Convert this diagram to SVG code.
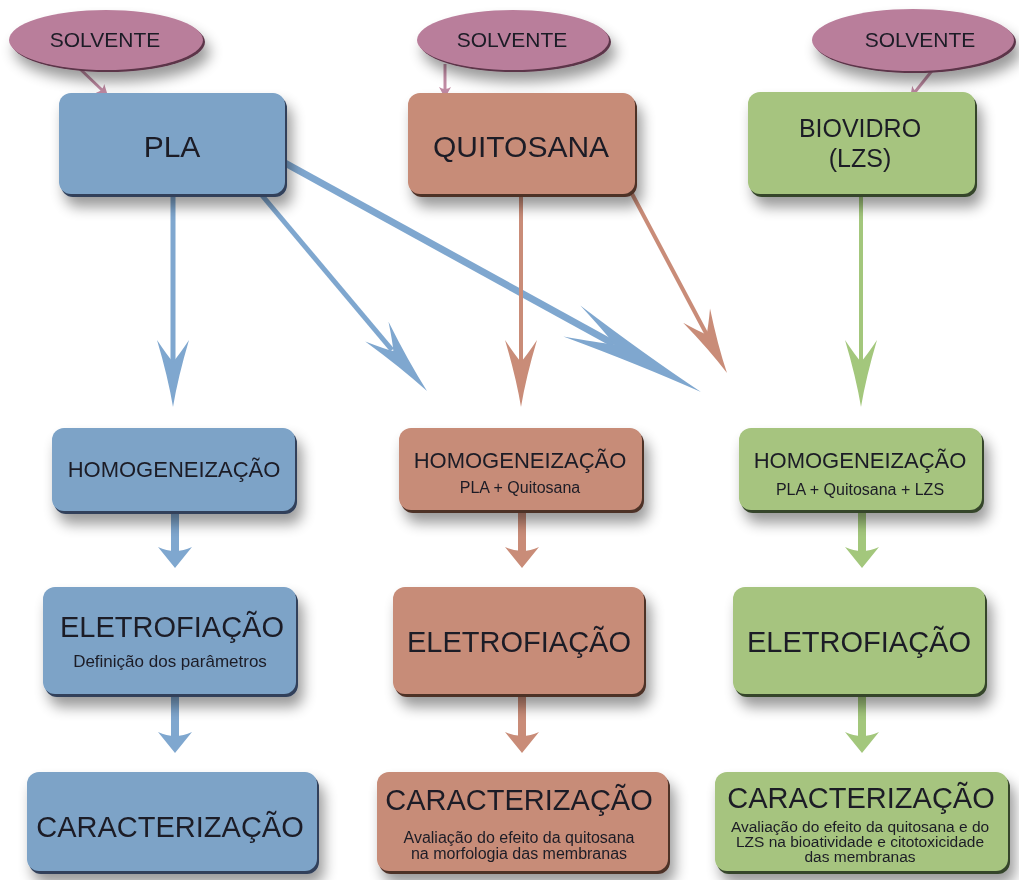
<svg xmlns="http://www.w3.org/2000/svg" xmlns:xlink="http://www.w3.org/1999/xlink" width="1019" height="880" viewBox="0 0 1019 880">
<style>
  .t { font-family: "Liberation Sans", Arial, sans-serif; fill: #1c1c26; text-anchor: middle; }
  .h1 { font-size: 30px; }
  .h2 { font-size: 22px; }
  .h3 { font-size: 29px; }
  .sv { font-size: 21px; }
  .sub { font-size: 16px; }
  .sub2 { font-size: 16px; }
  .blue { fill: #7DA3C7; }
  .pink { fill: #C78C78; }
  .green { fill: #A6C47F; }
  .mauve { fill: #B97E9B; }
  .dblue { fill: #30405a; }
  .dpink { fill: #4d3028; }
  .dgreen { fill: #35452b; }
  .dmauve { fill: #5b3448; }
  .sb { stroke: #7FA7CF; fill: none; }
  .sp { stroke: #C98C78; fill: none; }
  .sg { stroke: #A3C77C; fill: none; }
  .sm { stroke: #C08AA3; fill: none; stroke-width: 3; }
  .fb { fill: #7FA7CF; }
  .fp { fill: #C98C78; }
  .fg { fill: #A3C77C; }
  .fm { fill: #C08AA3; }
</style>
<defs>
  <filter id="sh" x="-20%" y="-20%" width="150%" height="170%">
    <feGaussianBlur in="SourceAlpha" stdDeviation="7"/>
    <feOffset dx="5" dy="10" result="b"/>
    <feComponentTransfer><feFuncA type="linear" slope="0.4"/></feComponentTransfer>
    <feMerge><feMergeNode/><feMergeNode in="SourceGraphic"/></feMerge>
  </filter>
  <path id="barb" d="M0,0 Q-30,-5 -67,-16 Q-52,-6 -45,0 Q-52,6 -67,16 Q-30,5 0,0 Z"/>
  <path id="small" d="M0,0 L-17,-21 Q0,-13 17,-21 Z"/>
  <path id="tiny" d="M0,0 L-11,-6 Q-7,0 -11,6 Z"/>
</defs>
<rect width="1019" height="880" fill="#ffffff"/>

<g id="connectors">
  <!-- solvent arrows -->
  <line class="sm" x1="78" y1="67" x2="102" y2="90"/>
  <use href="#tiny" class="fm" transform="translate(108,96) rotate(44)"/>
  <line class="sm" x1="445" y1="64" x2="445" y2="90"/>
  <use href="#tiny" class="fm" transform="translate(445,98) rotate(90)"/>
  <line class="sm" x1="935" y1="67" x2="915" y2="92"/>
  <use href="#tiny" class="fm" transform="translate(910,98) rotate(129)"/>

  <!-- row1 to row2 -->
  <line class="sb" stroke-width="5" x1="173" y1="194" x2="173" y2="365"/>
  <use href="#barb" class="fb" transform="translate(173,407) rotate(90)"/>
  <line class="sb" stroke-width="5" x1="260" y1="193" x2="392" y2="350"/>
  <use href="#barb" class="fb" transform="translate(427,391) rotate(49.85) scale(1.16,0.95)"/>
  <line class="sb" stroke-width="7" x1="285" y1="163" x2="614" y2="344"/>
  <use href="#barb" class="fb" transform="translate(701,392) rotate(28.8) scale(2.2,1.1)"/>
  <line class="sp" stroke-width="4" x1="521" y1="194" x2="521" y2="365"/>
  <use href="#barb" class="fp" transform="translate(521,407) rotate(90)"/>
  <line class="sp" stroke-width="4" x1="630" y1="190" x2="707" y2="335"/>
  <use href="#barb" class="fp" transform="translate(727,373) rotate(62.1) scale(0.97,0.95)"/>
  <line class="sg" stroke-width="4" x1="861" y1="194" x2="861" y2="365"/>
  <use href="#barb" class="fg" transform="translate(861,407) rotate(90)"/>

  <!-- row2 to row3 -->
  <line class="sb" stroke-width="8" x1="175" y1="512" x2="175" y2="552"/>
  <use href="#small" class="fb" transform="translate(175,568)"/>
  <line class="sp" stroke-width="8" x1="522" y1="510" x2="522" y2="552"/>
  <use href="#small" class="fp" transform="translate(522,568)"/>
  <line class="sg" stroke-width="8" x1="862" y1="510" x2="862" y2="552"/>
  <use href="#small" class="fg" transform="translate(862,568)"/>

  <!-- row3 to row4 -->
  <line class="sb" stroke-width="8" x1="175" y1="695" x2="175" y2="737"/>
  <use href="#small" class="fb" transform="translate(175,753)"/>
  <line class="sp" stroke-width="8" x1="522" y1="695" x2="522" y2="737"/>
  <use href="#small" class="fp" transform="translate(522,753)"/>
  <line class="sg" stroke-width="8" x1="862" y1="695" x2="862" y2="737"/>
  <use href="#small" class="fg" transform="translate(862,753)"/>
</g>

<!-- Solvent ellipses -->
<g id="solv1" filter="url(#sh)">
  <ellipse class="dmauve" cx="108" cy="42" rx="97" ry="30"/>
  <ellipse class="mauve" cx="106" cy="40" rx="97" ry="30"/>
  <text class="t sv" x="105" y="47">SOLVENTE</text>
</g>
<g id="solv2" filter="url(#sh)">
  <ellipse class="dmauve" cx="515" cy="42" rx="96" ry="30"/>
  <ellipse class="mauve" cx="513" cy="40" rx="96" ry="30"/>
  <text class="t sv" x="512" y="47">SOLVENTE</text>
</g>
<g id="solv3" filter="url(#sh)">
  <ellipse class="dmauve" cx="915" cy="42" rx="101" ry="31"/>
  <ellipse class="mauve" cx="913" cy="40" rx="101" ry="31"/>
  <text class="t sv" x="920" y="47">SOLVENTE</text>
</g>

<!-- Row 1 -->
<g id="pla" filter="url(#sh)">
  <rect class="dblue" x="61" y="96" width="226" height="101" rx="12"/>
  <rect class="blue" x="59" y="93" width="226" height="101" rx="12"/>
  <text class="t h1" x="172" y="157">PLA</text>
</g>
<g id="quitosana" filter="url(#sh)">
  <rect class="dpink" x="410" y="96" width="227" height="101" rx="12"/>
  <rect class="pink" x="408" y="93" width="227" height="101" rx="12"/>
  <text class="t h1" x="521" y="157">QUITOSANA</text>
</g>
<g id="biovidro" filter="url(#sh)">
  <rect class="dgreen" x="750" y="95" width="227" height="102" rx="12"/>
  <rect class="green" x="748" y="92" width="227" height="102" rx="12"/>
  <text class="t" style="font-size:25px" x="860" y="137">BIOVIDRO</text>
  <text class="t" style="font-size:25px" x="860" y="167">(LZS)</text>
</g>

<!-- Row 2 -->
<g id="homo1" filter="url(#sh)">
  <rect class="dblue" x="54" y="431" width="243" height="83" rx="12"/>
  <rect class="blue" x="52" y="428" width="243" height="83" rx="12"/>
  <text class="t h2" x="174" y="477">HOMOGENEIZAÇÃO</text>
</g>
<g id="homo2" filter="url(#sh)">
  <rect class="dpink" x="401" y="431" width="243" height="82" rx="12"/>
  <rect class="pink" x="399" y="428" width="243" height="82" rx="12"/>
  <text class="t h2" x="520" y="468">HOMOGENEIZAÇÃO</text>
  <text class="t sub" x="520" y="493">PLA + Quitosana</text>
</g>
<g id="homo3" filter="url(#sh)">
  <rect class="dgreen" x="741" y="431" width="243" height="82" rx="12"/>
  <rect class="green" x="739" y="428" width="243" height="82" rx="12"/>
  <text class="t h2" x="860" y="468">HOMOGENEIZAÇÃO</text>
  <text class="t sub" x="860" y="495">PLA + Quitosana + LZS</text>
</g>

<!-- Row 3 -->
<g id="eletro1" filter="url(#sh)">
  <rect class="dblue" x="45" y="590" width="253" height="107" rx="12"/>
  <rect class="blue" x="43" y="587" width="253" height="107" rx="12"/>
  <text class="t h3" x="172" y="637">ELETROFIAÇÃO</text>
  <text class="t" style="font-size:17px" x="170" y="667">Definição dos parâmetros</text>
</g>
<g id="eletro2" filter="url(#sh)">
  <rect class="dpink" x="395" y="590" width="251" height="107" rx="12"/>
  <rect class="pink" x="393" y="587" width="251" height="107" rx="12"/>
  <text class="t h3" x="519" y="652">ELETROFIAÇÃO</text>
</g>
<g id="eletro3" filter="url(#sh)">
  <rect class="dgreen" x="735" y="590" width="252" height="107" rx="12"/>
  <rect class="green" x="733" y="587" width="252" height="107" rx="12"/>
  <text class="t h3" x="859" y="652">ELETROFIAÇÃO</text>
</g>

<!-- Row 4 -->
<g id="carac1" filter="url(#sh)">
  <rect class="dblue" x="29" y="775" width="290" height="99" rx="12"/>
  <rect class="blue" x="27" y="772" width="290" height="99" rx="12"/>
  <text class="t h3" x="170" y="837">CARACTERIZAÇÃO</text>
</g>
<g id="carac2" filter="url(#sh)">
  <rect class="dpink" x="379" y="775" width="291" height="99" rx="12"/>
  <rect class="pink" x="377" y="772" width="291" height="99" rx="12"/>
  <text class="t h3" x="519" y="810">CARACTERIZAÇÃO</text>
  <text class="t sub2" x="519" y="843">Avaliação do efeito da quitosana</text>
  <text class="t sub2" x="519" y="859">na morfologia das membranas</text>
</g>
<g id="carac3" filter="url(#sh)">
  <rect class="dgreen" x="717" y="775" width="293" height="99" rx="12"/>
  <rect class="green" x="715" y="772" width="293" height="99" rx="12"/>
  <text class="t h3" x="861" y="808">CARACTERIZAÇÃO</text>
  <text class="t" style="font-size:15.5px" x="860" y="832">Avaliação do efeito da quitosana e do</text>
  <text class="t" style="font-size:15.5px" x="860" y="847">LZS na bioatividade e citotoxicidade</text>
  <text class="t" style="font-size:15.5px" x="860" y="862">das membranas</text>
</g>
</svg>
